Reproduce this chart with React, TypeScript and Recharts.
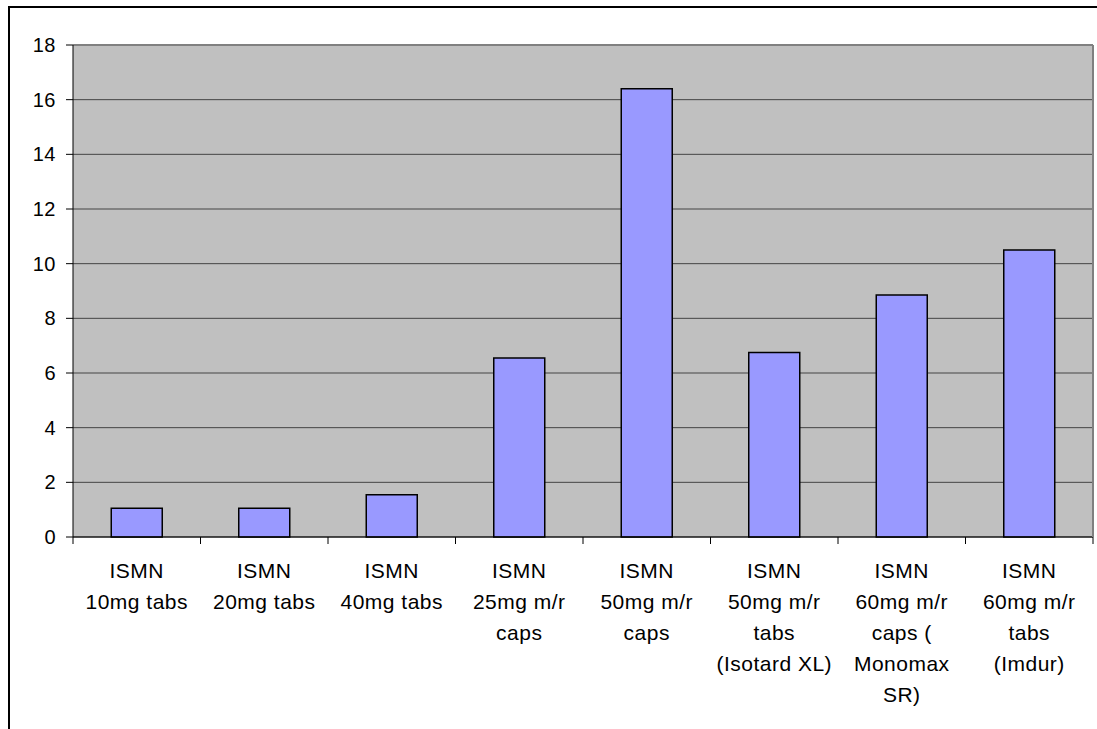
import { BarChart, Bar, XAxis, YAxis, CartesianGrid, ReferenceLine } from "recharts";

const categories = [
  "ISMN\n10mg tabs",
  "ISMN\n20mg tabs",
  "ISMN\n40mg tabs",
  "ISMN\n25mg m/r\ncaps",
  "ISMN\n50mg m/r\ncaps",
  "ISMN\n50mg m/r\ntabs\n(Isotard XL)",
  "ISMN\n60mg m/r\ncaps (\nMonomax\nSR)",
  "ISMN\n60mg m/r\ntabs\n(Imdur)",
];
const values = [1.05, 1.05, 1.55, 6.55, 16.4, 6.75, 8.85, 10.5];
const yTicks = [0, 2, 4, 6, 8, 10, 12, 14, 16, 18];

const data = categories.map((name, i) => ({ name, value: values[i] }));

const WIDTH = 1097;
const HEIGHT = 729;
const Y_AXIS_W = 73;
const RIGHT_W = 4;
const FONT = "'Liberation Sans', Arial, sans-serif";

function CategoryTick(props: any) {
  const { x, y, payload, index } = props;
  const band = (WIDTH - Y_AXIS_W - RIGHT_W) / categories.length;
  const lines = String(payload.value).split("\n");
  const left = x - band / 2;
  return (
    <g>
      <line x1={left} y1={y - 8} x2={left} y2={y - 1} stroke="#000" />
      {index === categories.length - 1 && (
        <line x1={left + band} y1={y - 8} x2={left + band} y2={y - 1} stroke="#000" />
      )}
      <text x={x} y={y + 33} textAnchor="middle" fill="#000" fontSize={21} letterSpacing={0.5} fontFamily={FONT}>
        {lines.map((l, i) => (
          <tspan key={i} x={x} dy={i === 0 ? 0 : 31}>
            {l}
          </tspan>
        ))}
      </text>
    </g>
  );
}

export default function App() {
  return (
    <div style={{ position: "absolute", left: 0, top: 0, width: WIDTH, height: HEIGHT, overflow: "hidden", background: "#fff" }}>
      <div style={{ position: "absolute", left: 8, top: 6, width: 1200, height: 900, borderTop: "2px solid #000", borderLeft: "2px solid #000" }} />
      <div style={{ position: "absolute", left: 0, top: 0 }}>
        <BarChart width={WIDTH} height={HEIGHT} data={data} margin={{ top: 45, right: 0, bottom: 7, left: 0 }} barCategoryGap="30%">
          <CartesianGrid vertical={false} stroke="#444" fill="#C0C0C0" fillOpacity={1} />
          <XAxis
            dataKey="name"
            interval={0}
            height={185}
            axisLine={{ stroke: "#000" }}
            tickLine={false}
            tick={<CategoryTick />}
          />
          <YAxis
            domain={[0, 18]}
            ticks={yTicks}
            width={Y_AXIS_W}
            tickSize={7}
            tickMargin={10}
            axisLine={{ stroke: "#000" }}
            tickLine={{ stroke: "#000" }}
            tick={{ fill: "#000", fontSize: 20, fontFamily: FONT, letterSpacing: 0.5 }}
          />
          <YAxis
            yAxisId="right"
            orientation="right"
            width={RIGHT_W}
            domain={[0, 18]}
            tick={false}
            tickLine={false}
            axisLine={{ stroke: "#808080", strokeWidth: 2 }}
          />
          <ReferenceLine y={18} stroke="#808080" strokeWidth={2} />
          <Bar dataKey="value" fill="#9999FF" stroke="#000" strokeWidth={1.5} isAnimationActive={false} />
        </BarChart>
      </div>
    </div>
  );
}
